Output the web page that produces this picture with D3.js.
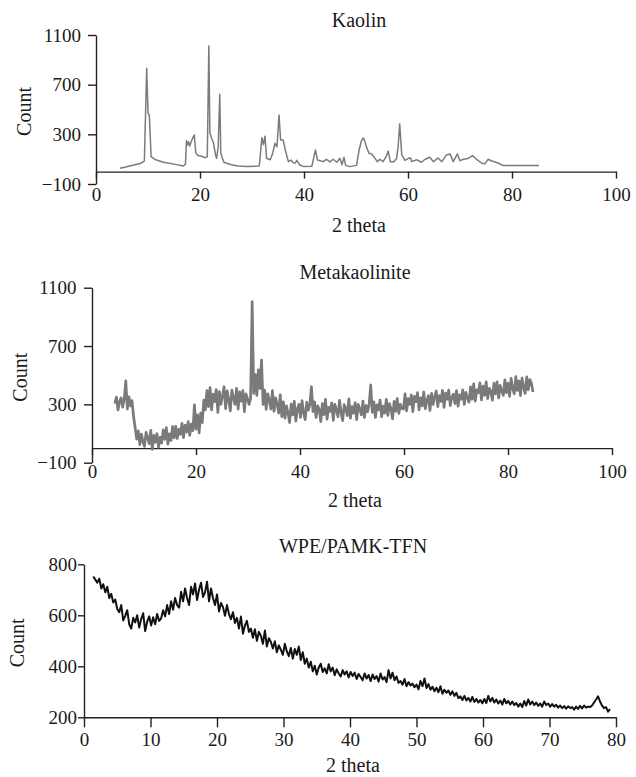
<!DOCTYPE html>
<html lang="en">
<head>
<meta charset="utf-8">
<script src="https://d3js.org/d3.v7.min.js"></script>
<style>
  body { margin: 0; background: #fff; }
  text { font-family: "Liberation Serif", "Times New Roman", serif; fill: #1a1a1a; }
</style>
</head>
<body>
<script>
// ---- data ----
// Kaolin: [2 theta, count]
var kaolin = [
  [4.6,27],[5.5,35],[6.5,45],[7.5,55],[8.5,65],[9.3,85],[9.75,832],[10.0,470],[10.25,455],[10.6,120],
  [11.5,95],[13,75],[15,60],[16.8,45],[17.2,60],[17.4,250],[17.6,215],[17.8,240],[18.0,205],[18.3,240],
  [18.6,270],[18.9,295],[19.2,150],[19.6,130],[20.2,125],[21.0,112],[21.4,120],[21.7,1011],[21.9,310],[22.3,260],
  [22.6,230],[23.0,130],[23.2,107],[23.5,200],[23.8,622],[24.0,150],[24.3,110],[24.6,75],[26,55],[27.3,45],
  [29,40],[31.4,45],[31.9,273],[32.2,217],[32.5,285],[32.8,107],[33.5,95],[34.0,150],[34.4,228],[34.8,200],
  [35.2,456],[35.5,254],[36.0,254],[36.4,174],[37.0,80],[37.5,93],[38.0,70],[38.3,67],[38.6,90],[39.2,53],
  [40,40],[41.5,42],[42.2,174],[42.6,93],[43.7,80],[44.3,99],[45.0,78],[45.6,99],[46.3,75],[46.9,107],
  [47.3,55],[47.7,115],[48.0,50],[48.8,40],[50.1,50],[50.6,174],[51.0,241],[51.3,268],[51.5,268],[52.0,201],
  [52.5,147],[53.0,142],[53.6,110],[54.1,80],[54.6,99],[55.2,80],[55.8,120],[56.2,165],[56.6,80],[57.3,80],
  [57.8,105],[58.1,200],[58.4,383],[58.8,134],[59.4,90],[60.1,107],[60.5,110],[60.7,80],[61.7,95],[62.6,75],
  [63.3,99],[64.2,115],[64.9,80],[65.8,110],[66.5,80],[67.4,134],[68.1,142],[68.7,80],[69.5,142],[70.0,88],
  [70.7,99],[71.5,105],[72.4,128],[73.2,99],[74.2,67],[74.8,62],[75.4,99],[76.1,85],[76.9,75],[77.5,65],
  [78.3,48],[80.4,48],[83,50],[85.2,48]
];

// Metakaolinite: scan from 4.4 deg in 0.3 deg steps
var metaStart = 4.4, metaStep = 0.3;
var metaCounts = [
  305,350,262,318,345,280,336,462,268,352,290,326, 215,140,
  62,118,24,96,45,12,108,70,30,122,-8,88,40,100,6,74,
  35,125,60,140,28,98,52,147,70,
  150,66,128,95,170,72,158,110,182,88,165,120, 296,
  130,228,105,240,175, 330,262,395,285,
  415,262,370,318,402,245,388,300,360,421,270,392,330,255,398,345,300,410,268,385,322,395,250,372,340,300,
  340,1004,375, 505,362,536,410,604,
  300,398,265,372,330,268,395,252,345,300,240,365,215,
  318,205,290,240,175,302,228,320,185,268,300,210,325,240,195,315,260,300, 421,
  250,318,210,290,265,182,305,230,335,198,280,252,310,190,300,262,215,328,245,188,
  298,270,222,338,205,285,240,312,195,300,268,228,322,210,292,250,305, 433,
  245,318,210,296,262,330,215,288,240,335,225,305,270,200,320,252,340,238,300,272,
  268,372,255,340,300,365,250,355,318,380,262,345,290,385,270,330,360,258,375,300,352,
  392,285,360,320,396,280,378,335,398,292,350,370,305,395,288,365,335,400,300,382,345,315,
  420,335,440,322,400,380,448,330,425,362,455,340,410,392,328,445,372,455,345,430,390,
  362,468,380,445,355,478,410,372,490,395,462,360,480,420,375,488,400,470,445,385
];

// WPE/PAMK-TFN: scan from 1.4 deg in 0.3 deg steps
var wpeStart = 1.4, wpeStep = 0.3;
var wpeCounts = [
  752,740,728,744,705,722,690,712,668,684, 650,662,625,612,640,580,598,620,565,548,
  590,572,600,552,585,608,538,575,596,560, 592,565,605,578,588,620,596,640,605,655,
  622,668,640,630,692,655,705,668,640,712, 682,725,660,700,728,672,690,732,655,705,
  668,640,682,615,648,632,598,640,605,585, 612,570,590,548,595,528,560,578,535,548,
  512,545,500,535,520,488,540,478,510,495, 470,498,455,482,465,445,488,458,440,472,
  430,468,445,478,425,455,410,430,395,418, 380,402,368,395,410,378,392,372,408,380,
  395,365,388,372,360,385,368,380,356,378, 362,375,350,370,358,345,372,352,366,342,
  368,350,362,340,372,348,358,338,385,352, 375,345,360,335,342,328,350,322,338,325,
  332,318,328,310,342,322,352,315,330,308, 320,302,316,298,322,292,308,296,305,288,
  302,284,296,275,282,268,284,266,276,262, 280,260,272,258,268,255,272,256,284,262,
  276,258,270,254,266,250,272,255,264,250, 262,248,256,242,254,240,264,246,270,250,
  262,248,258,245,254,242,262,248,254,242, 252,242,249,238,246,236,244,234,243,236,
  240,230,242,233,245,235,246,238,242,240, 246,258,270,282,262,246,236,240,222,232
];

var titles = ["Kaolin", "Metakaolinite", "WPE/PAMK-TFN"];
var xTicksAB = [0, 20, 40, 60, 80, 100];
var xTicksC = [0, 10, 20, 30, 40, 50, 60, 70, 80];
var yTicksAB = [-100, 300, 700, 1100];
var yTicksC = [200, 400, 600, 800];

// ---- layout ----
var W = 636, H = 777;
var svg = d3.select("body").append("svg").attr("width", W).attr("height", H);

var metakaolin = metaCounts.map(function (v, i) { return [metaStart + i * metaStep, v]; });
var wpe = wpeCounts.map(function (v, i) { return [wpeStart + i * wpeStep, v]; });

var panels = [
  { title: titles[0], data: kaolin, xd: [0, 100], xr: [96, 616], yd: [-100, 1100], yr: [184, 35],
    xt: xTicksAB, yt: yTicksAB, base: 0, color: "#7b7b7b", lw: 1.5,
    xTick: 7, xPad: 8.5, yTick: 8, yPad: 7, titleY: 27, labY: 232, countX: 24 },
  { title: titles[1], data: metakaolin, xd: [0, 100], xr: [92, 612], yd: [-100, 1100], yr: [462.7, 287.7],
    xt: xTicksAB, yt: yTicksAB, base: 0, color: "#7a7a7a", lw: 2.7,
    xTick: 7, xPad: 9, yTick: 8, yPad: 7.5, titleY: 279, labY: 507, countX: 20 },
  { title: titles[2], data: wpe, xd: [0, 80], xr: [84, 616], yd: [200, 800], yr: [717.3, 564.3],
    xt: xTicksC, yt: yTicksC, base: 200, color: "#111", lw: 2,
    xTick: 10, xPad: 5, yTick: 6, yPad: 1, titleY: 553, labY: 772, countX: 17 }
];

panels.forEach(function (p) {
  var x = d3.scaleLinear().domain(p.xd).range(p.xr);
  var y = d3.scaleLinear().domain(p.yd).range(p.yr);
  var g = svg.append("g");

  // x axis sits on the zero / baseline count
  var xa = g.append("g")
    .attr("transform", "translate(0," + y(p.base) + ")")
    .call(d3.axisBottom(x).tickValues(p.xt).tickFormat(d3.format("d"))
      .tickSize(p.xTick).tickSizeOuter(0).tickPadding(p.xPad));
  var ya = g.append("g")
    .attr("transform", "translate(" + x(0) + ",0)")
    .call(d3.axisLeft(y).tickValues(p.yt).tickFormat(d3.format("d"))
      .tickSize(p.yTick).tickSizeOuter(0).tickPadding(p.yPad));

  [xa, ya].forEach(function (a) {
    a.attr("font-family", null).attr("font-size", null);
    a.selectAll("path, line").attr("stroke", "#222").attr("stroke-width", 1.4);
    a.selectAll("text").style("font-size", "19px").attr("fill", "#1a1a1a");
  });

  var line = d3.line().x(function (d) { return x(d[0]); }).y(function (d) { return y(d[1]); });
  g.append("path").datum(p.data)
    .attr("fill", "none").attr("stroke", p.color)
    .attr("stroke-width", p.lw).attr("stroke-linejoin", "round")
    .attr("d", line);

  // titles and axis names (y given as baseline)
  var cx = (p.xr[0] + p.xr[1]) / 2 + 3;
  g.append("text").attr("x", cx).attr("y", p.titleY)
    .attr("text-anchor", "middle").style("font-size", "20px").text(p.title);
  g.append("text").attr("x", cx).attr("y", p.labY)
    .attr("text-anchor", "middle").style("font-size", "20px").text("2 theta");
  g.append("text")
    .attr("transform", "translate(" + p.countX + "," + ((p.yr[0] + p.yr[1]) / 2 + 2) + ") rotate(-90)")
    .attr("dy", "0.35em").attr("text-anchor", "middle").style("font-size", "20px").text("Count");
});
</script>
</body>
</html>
